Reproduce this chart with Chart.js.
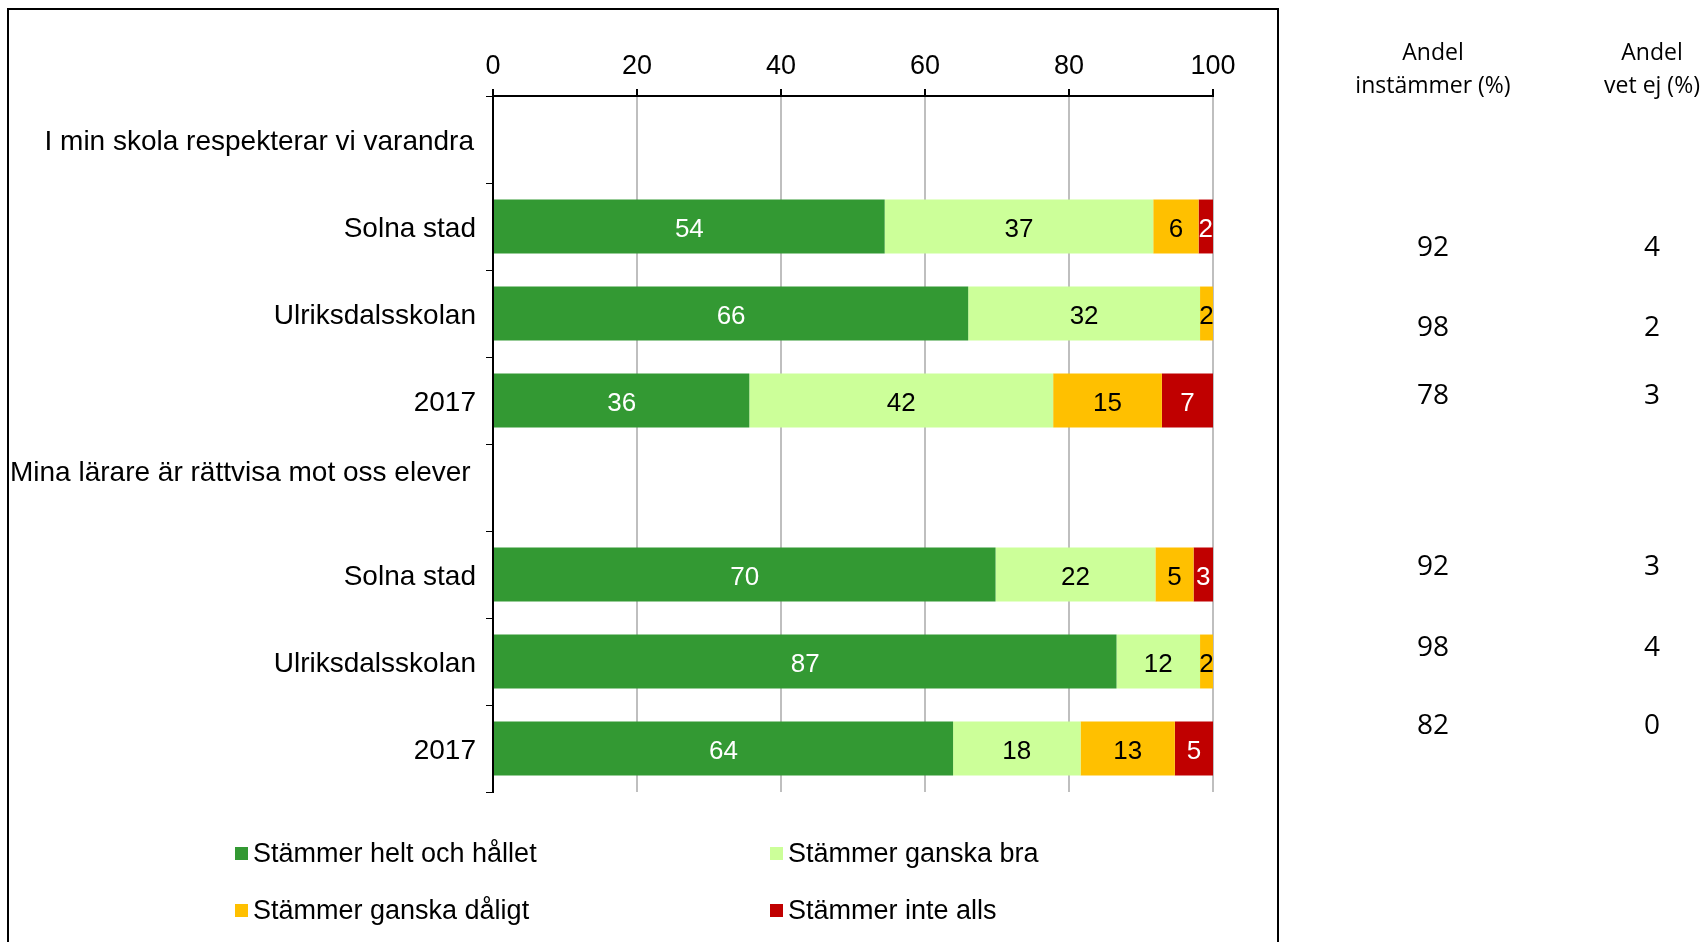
<!DOCTYPE html>
<html>
<head>
<meta charset="utf-8">
<script src="https://cdn.jsdelivr.net/npm/chart.js@4/dist/chart.umd.min.js"></script>
<style>
  html, body { margin: 0; padding: 0; background: #fff; overflow: hidden; }
  #chart { display: block; }
</style>
</head>
<body>
<canvas id="chart" width="1705" height="942"></canvas>
<script>
// categories (two questions, each with three groups)
var categories = ["I min skola respekterar vi varandra", "Solna stad", "Ulriksdalsskolan", "2017",
                  "Mina lärare är rättvisa mot oss elever", "Solna stad", "Ulriksdalsskolan", "2017"];
var headerRows = [0, 4];
// shares in %
var heltOchHallet = [null, 54.4, 66.0, 35.6, null, 69.8, 86.6, 63.9];
var ganskaBra     = [null, 37.3, 32.2, 42.2, null, 22.2, 11.6, 17.7];
var ganskaDaligt  = [null, 6.3, 1.8, 15.1, null, 5.3, 1.8, 13.1];
var inteAlls      = [null, 2.0, 0, 7.1, null, 2.7, 0, 5.3];
// side table
var andelInstammer = [92, 98, 78, 92, 98, 82];
var andelVetEj     = [4, 2, 3, 3, 4, 0];
var xTicks = [0, 20, 40, 60, 80, 100];

var FONT = "'Liberation Sans', Arial, sans-serif";

var segLabels = {
  id: 'segLabels',
  afterDatasetsDraw: function(chart) {
    var ctx = chart.ctx;
    ctx.save();
    ctx.font = '26px ' + FONT;
    ctx.textAlign = 'center';
    ctx.textBaseline = 'middle';
    chart.data.datasets.forEach(function(ds, di) {
      var meta = chart.getDatasetMeta(di);
      meta.data.forEach(function(bar, i) {
        var v = ds.data[i];
        if (!v) return;
        ctx.fillStyle = ds.labelColor;
        ctx.fillText(String(Math.round(v)), (bar.x + bar.base) / 2, bar.y + 3);
      });
    });
    ctx.restore();
  }
};

var extras = {
  id: 'extras',
  afterDraw: function(chart) {
    var ctx = chart.ctx;
    var yScale = chart.scales.y;
    ctx.save();
    // frame
    ctx.strokeStyle = '#000';
    ctx.lineWidth = 2;
    ctx.strokeRect(8, 9, 1270, 1000);

    // question headers in the category column
    ctx.fillStyle = '#000';
    ctx.font = '28px ' + FONT;
    ctx.textBaseline = 'middle';
    ctx.textAlign = 'right';
    ctx.fillText(categories[headerRows[0]], 474, yScale.getPixelForValue(headerRows[0]) + 3);
    ctx.textAlign = 'left';
    ctx.fillText(categories[headerRows[1]], 10, yScale.getPixelForValue(headerRows[1]) - 14);

    // legend
    var legendPos = [[235, 855], [770, 855], [235, 912], [770, 912]];
    ctx.font = '27px ' + FONT;
    ctx.textAlign = 'left';
    chart.data.datasets.forEach(function(ds, i) {
      var p = legendPos[i];
      ctx.fillStyle = ds.backgroundColor;
      ctx.fillRect(p[0], p[1] - 8, 13, 13);
      ctx.fillStyle = '#000';
      ctx.fillText(ds.label, p[0] + 18, p[1]);
    });

    // side table
    ctx.textAlign = 'center';
    ctx.font = '23px "Open Sans", sans-serif';
    ctx.fillText('Andel', 1433, 53);
    ctx.fillText('instämmer (%)', 1433, 86);
    ctx.fillText('Andel', 1652, 53);
    ctx.fillText('vet ej (%)', 1652, 86);
    var rowY = [248, 328, 396, 567, 648, 726];
    ctx.font = '28px "Open Sans", sans-serif';
    rowY.forEach(function(y, i) {
      ctx.fillText(String(andelInstammer[i]), 1433, y);
      ctx.fillText(String(andelVetEj[i]), 1652, y);
    });
    ctx.restore();
  }
};

new Chart(document.getElementById('chart').getContext('2d'), {
  type: 'bar',
  data: {
    labels: categories,
    datasets: [
      { label: 'Stämmer helt och hållet', data: heltOchHallet, backgroundColor: '#339933', labelColor: '#fff' },
      { label: 'Stämmer ganska bra', data: ganskaBra, backgroundColor: '#ccff99', labelColor: '#000' },
      { label: 'Stämmer ganska dåligt', data: ganskaDaligt, backgroundColor: '#ffc000', labelColor: '#000' },
      { label: 'Stämmer inte alls', data: inteAlls, backgroundColor: '#c00000', labelColor: '#fff' }
    ]
  },
  options: {
    indexAxis: 'y',
    responsive: false,
    animation: false,
    barPercentage: 0.62,
    categoryPercentage: 1,
    layout: { padding: { left: 0, top: 0, right: 492, bottom: 150 } },
    plugins: {
      legend: { display: false },
      tooltip: { enabled: false }
    },
    scales: {
      x: {
        position: 'top',
        stacked: true,
        min: 0,
        max: 100,
        afterBuildTicks: function(s) { s.ticks = xTicks.map(function(v) { return { value: v }; }); },
        afterFit: function(s) { s.height = 96; },
        ticks: { color: '#000', font: { family: FONT, size: 27 }, padding: 6 },
        grid: { color: '#bfbfbf', lineWidth: 2, tickColor: '#000', tickLength: 7 },
        border: { color: '#000', width: 2 }
      },
      y: {
        stacked: true,
        afterFit: function(s) { s.width = 493; },
        ticks: {
          color: '#000',
          font: { family: FONT, size: 28 },
          padding: 10,
          labelOffset: 3,
          callback: function(v, i) { return headerRows.indexOf(i) >= 0 ? '' : categories[i]; }
        },
        grid: { drawOnChartArea: false, tickColor: '#000', tickLength: 7, offset: true },
        border: { color: '#000', width: 2 }
      }
    }
  },
  plugins: [segLabels, extras]
});
</script>
</body>
</html>
